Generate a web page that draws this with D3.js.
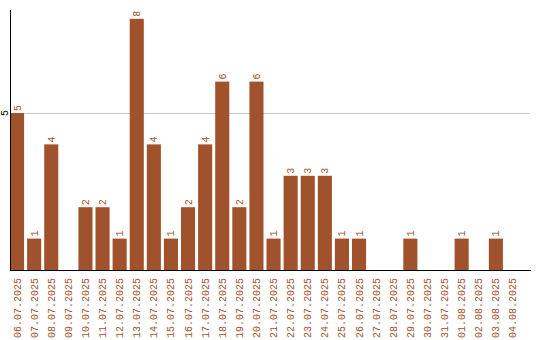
<html>
<head>
  <meta charset="UTF-8">
  <title>Daily counts</title>
  <script src="https://cdn.jsdelivr.net/npm/d3@7"></script>
  <style>
    body { margin: 0; background: #fff; }
    text { font-family: "Liberation Mono", "DejaVu Sans Mono", monospace; font-size: 10px; }
  </style>
</head>
<body>
  <div id="chart"></div>
  <script>
  // ---------------------------------------------------
  // Data
  // ---------------------------------------------------
  var days = ["06.07.2025", "07.07.2025", "08.07.2025", "09.07.2025", "10.07.2025",
    "11.07.2025", "12.07.2025", "13.07.2025", "14.07.2025", "15.07.2025",
    "16.07.2025", "17.07.2025", "18.07.2025", "19.07.2025", "20.07.2025",
    "21.07.2025", "22.07.2025", "23.07.2025", "24.07.2025", "25.07.2025",
    "26.07.2025", "27.07.2025", "28.07.2025", "29.07.2025", "30.07.2025",
    "31.07.2025", "01.08.2025", "02.08.2025", "03.08.2025", "04.08.2025"];
  var counts = [5, 1, 4, 0, 2, 2, 1, 8, 4, 1, 2, 4, 6, 2, 6,
    1, 3, 3, 3, 1, 1, 0, 0, 1, 0, 0, 1, 0, 1, 0];
  var yTicks = [5];

  var barColor = "#a0522d";
  var W = 540, H = 340;
  var mLeft = 10, mRight = 520, mTop = 10, mBottom = 270;

  var svg = d3.select("#chart").append("svg")
    .attr("width", W).attr("height", H);

  var x = d3.scaleBand().domain(days).range([mLeft, mRight])
    .paddingInner(3 / 17).paddingOuter(0).align(0);
  var y = d3.scaleLinear().domain([0, 8.28]).range([mBottom, mTop]);

  // gridline
  svg.selectAll(".grid").data(yTicks).enter().append("line")
    .attr("x1", mLeft).attr("x2", 530)
    .attr("y1", function (d) { return Math.round(y(d)) + 0.5; })
    .attr("y2", function (d) { return Math.round(y(d)) + 0.5; })
    .attr("stroke", "#c8c8c8");

  // bars
  svg.selectAll(".bar").data(counts).enter().append("rect")
    .attr("class", "bar")
    .attr("x", function (d, i) { return x(days[i]); })
    .attr("width", x.bandwidth())
    .attr("y", function (d) { return y(d); })
    .attr("height", function (d) { return mBottom - y(d); })
    .attr("fill", barColor);

  // value labels (only for non-zero days)
  var labelled = counts.map(function (d, i) { return { day: days[i], v: d }; })
    .filter(function (d) { return d.v > 0; });
  svg.selectAll(".val").data(labelled).enter().append("text")
    .attr("transform", function (d) {
      return "translate(" + (x(d.day) + x.bandwidth() / 2) + "," + (y(d.v) - 2) + ") rotate(-90)";
    })
    .attr("dy", "0.35em")
    .attr("fill", barColor)
    .text(function (d) { return d.v; });

  // axes lines
  svg.append("line").attr("x1", mLeft + 0.5).attr("x2", mLeft + 0.5)
    .attr("y1", mTop).attr("y2", mBottom).attr("stroke", "#000");
  svg.append("line").attr("x1", mLeft).attr("x2", 531)
    .attr("y1", mBottom + 0.5).attr("y2", mBottom + 0.5).attr("stroke", "#000");

  // y tick labels
  svg.selectAll(".ytick").data(yTicks).enter().append("text")
    .attr("transform", function (d) { return "translate(4," + y(d) + ") rotate(-90)"; })
    .attr("text-anchor", "middle")
    .attr("dy", "0.35em")
    .attr("fill", "#000")
    .text(function (d) { return d; });

  // x labels
  svg.selectAll(".xlab").data(days).enter().append("text")
    .attr("transform", function (d) {
      return "translate(" + (x(d) + x.bandwidth() / 2) + "," + (mBottom + 8) + ") rotate(-90)";
    })
    .attr("text-anchor", "end")
    .attr("dy", "0.35em")
    .attr("fill", barColor)
    .text(function (d) { return d; });
  </script>
</body>
</html>
